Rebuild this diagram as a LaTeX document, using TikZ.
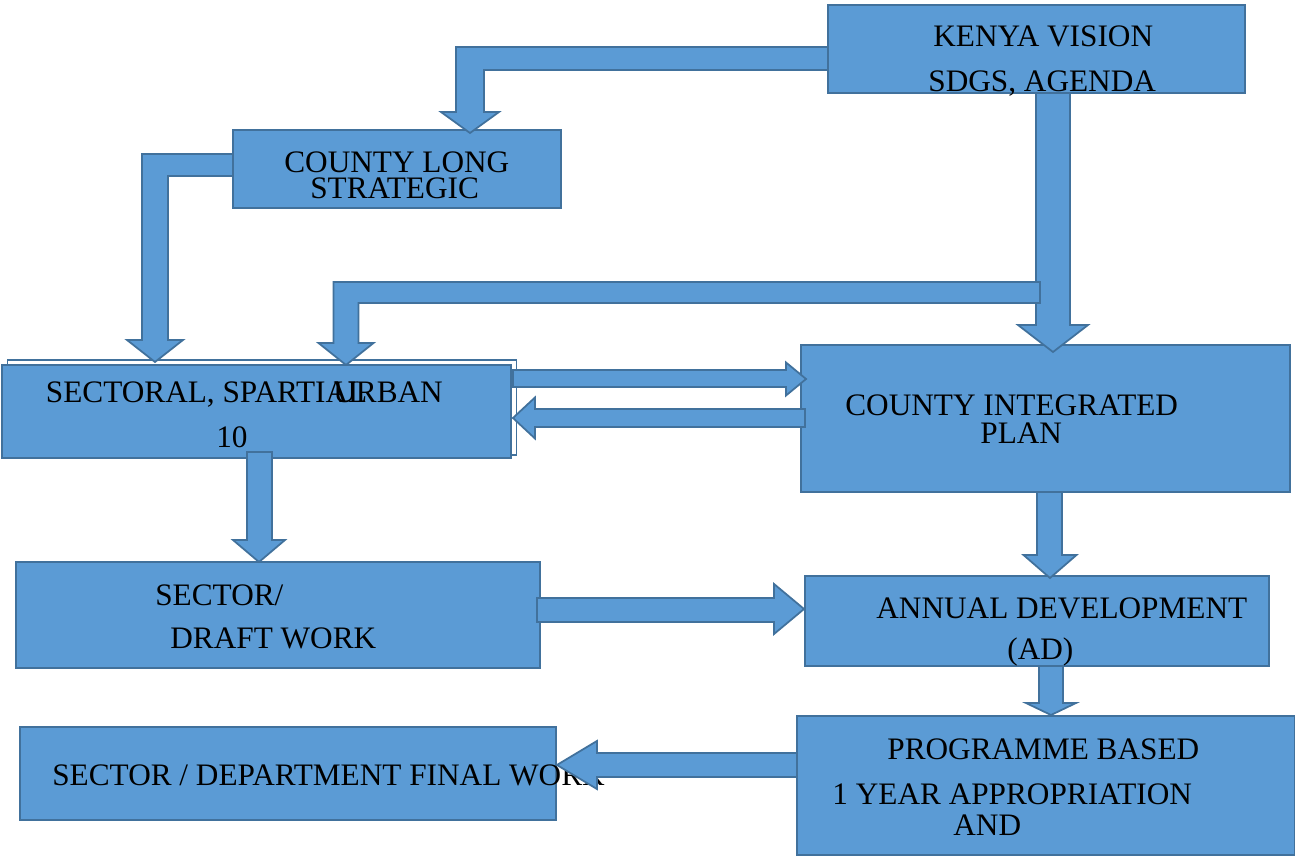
\documentclass[tikz,border=0pt]{standalone}
\usepackage{fontspec}
\setmainfont{Liberation Serif}
\usepackage{tikz}
\usetikzlibrary{calc}

\definecolor{boxfill}{HTML}{5B9BD5}
\definecolor{boxline}{HTML}{41719C}

% Blockpfeile: start, tip, half shaft, half head, head length
\newcommand{\blockdown}[5]{%
  \filldraw[blockarrow] ($(#1)+(-#3,0)$) -- ($(#1|-#2)+(-#3,-#5)$) -- ($(#2)+(-#4,-#5)$) -- (#2)
    -- ($(#2)+(#4,-#5)$) -- ($(#1|-#2)+(#3,-#5)$) -- ($(#1)+(#3,0)$) -- cycle;}
\newcommand{\blockright}[5]{%
  \filldraw[blockarrow] ($(#1)+(0,-#3)$) -- ($(#2|-#1)+(-#5,-#3)$) -- ($(#2)+(-#5,-#4)$) -- (#2)
    -- ($(#2)+(-#5,#4)$) -- ($(#2|-#1)+(-#5,#3)$) -- ($(#1)+(0,#3)$) -- cycle;}
\newcommand{\blockleft}[5]{%
  \filldraw[blockarrow] ($(#1)+(0,-#3)$) -- ($(#2|-#1)+(#5,-#3)$) -- ($(#2)+(#5,-#4)$) -- (#2)
    -- ($(#2)+(#5,#4)$) -- ($(#2|-#1)+(#5,#3)$) -- ($(#1)+(0,#3)$) -- cycle;}
% Winkelpfeil: start, tip, half horizontal shaft, half vertical shaft, half head, head length
\newcommand{\blockelbow}[6]{%
  \filldraw[blockarrow] ($(#1)+(0,-#3)$) -- ($(#2|-#1)+(-#4,-#3)$) -- ($(#2)+(-#4,-#6)$) -- ($(#2)+(-#5,-#6)$) -- (#2)
    -- ($(#2)+(#5,-#6)$) -- ($(#2)+(#4,-#6)$) -- ($(#2|-#1)+(#4,#3)$) -- ($(#1)+(0,#3)$) -- cycle;}

\begin{document}
\begin{tikzpicture}[x=0.02cm, y=-0.02cm,
                box/.style={draw=boxline, fill=boxfill, line width=1pt, rectangle, inner sep=0pt, outer sep=0pt},
                frame/.style={draw=boxline, line width=0.6pt, rectangle, inner sep=0pt, outer sep=0pt},
                lbl/.style={font=\fontsize{17.8pt}{20pt}\selectfont, inner sep=0pt, anchor=base west},
                blockarrow/.style={draw=boxline, fill=boxfill, line width=1pt, line join=miter}
            ]
            \useasboundingbox (0,0) rectangle (1295,857);

            % Knoten
            \node[box, minimum width=8.34cm, minimum height=1.76cm] (kenya) at (1036.5,49) {};
            \node[box, minimum width=6.56cm, minimum height=1.56cm] (longplan) at (397,169) {};
            \node[frame, minimum width=10.19cm, minimum height=1.9cm] (sectframe) at (262.25,407.5) {};
            \node[box, minimum width=10.18cm, minimum height=1.86cm] (sectoral) at (256.5,411.5) {};
            \node[box, minimum width=9.78cm, minimum height=2.94cm] (cidp) at (1045.5,418.5) {};
            \node[box, minimum width=10.48cm, minimum height=2.12cm] (draft) at (278,615) {};
            \node[box, minimum width=9.28cm, minimum height=1.8cm] (adp) at (1037,621) {};
            \node[box, minimum width=9.96cm, minimum height=2.78cm] (pbb) at (1046,785.5) {};
            \node[box, minimum width=10.72cm, minimum height=1.86cm] (final) at (288,773.5) {};

            % Texte
            \node[lbl] (kenyaA) at (933,47) {KENYA VISION};
            \node[lbl] (kenyaB) at (928,92) {SDGS, AGENDA};
            \node[lbl] (longA) at (284,173) {COUNTY LONG};
            \node[lbl] (longB) at (310,199) {STRATEGIC};
            \node[lbl] (sectA) at (45.6,403) {SECTORAL, SPARTIAL};
            \node[lbl] (sectB) at (333,403) {URBAN};
            \node[lbl] (sectC) at (216,448) {10};
            \node[lbl] (cidpA) at (845,416) {COUNTY INTEGRATED};
            \node[lbl] (cidpB) at (980,444) {PLAN};
            \node[lbl] (draftA) at (155,606) {SECTOR/};
            \node[lbl] (draftB) at (170,649) {DRAFT WORK};
            \node[lbl] (adpA) at (876,619) {ANNUAL DEVELOPMENT};
            \node[lbl] (adpB) at (1007,660) {(AD)};
            \node[lbl] (pbbA) at (887,760) {PROGRAMME BASED};
            \node[lbl] (pbbB) at (832,805) {1 YEAR APPROPRIATION};
            \node[lbl] (pbbC) at (953,835) {AND};
            \node[lbl] (finalA) at (52,786) {SECTOR / DEPARTMENT FINAL WORK};

            % Pfeile zwischen Knoten
            \coordinate (a0) at ($(kenya.west)+(0,9.5)$);
            \coordinate (a1) at ($(longplan.north)+(73,3)$);
            \coordinate (b0) at ($(longplan.west)+(0,-4)$);
            \coordinate (b1) at ($(sectoral.north)+(-101.5,-3)$);
            \coordinate (c0) at ($(kenya.south)+(16.5,0)$);
            \coordinate (c1) at ($(cidp.north)+(7.5,7)$);
            \coordinate (d0) at (1040,292.5);
            \coordinate (d1) at ($(sectoral.north)+(89.5,0)$);
            \coordinate (e0) at ($(sectoral.east)+(2,-33)$);
            \coordinate (e1) at ($(cidp.west)+(5,-39.5)$);
            \coordinate (f0) at ($(cidp.west)+(4,-0.5)$);
            \coordinate (f1) at ($(sectoral.east)+(2,6.5)$);
            \coordinate (g0) at ($(sectoral.south)+(3,-6)$);
            \coordinate (g1) at ($(draft.north)+(-19,0)$);
            \coordinate (h0) at ($(draft.east)+(-3,-5)$);
            \coordinate (h1) at ($(adp.west)+(-1,-12)$);
            \coordinate (i0) at ($(cidp.south)+(4,0)$);
            \coordinate (i1) at ($(adp.north)+(13,2)$);
            \coordinate (j0) at ($(adp.south)+(14,0)$);
            \coordinate (j1) at ($(pbb.north)+(5,-1)$);
            \coordinate (k0) at ($(pbb.west)+(0,-20.5)$);
            \coordinate (k1) at ($(final.east)+(1,-8.5)$);

            \blockelbow{a0}{a1}{11.5}{14}{29}{21}
            \blockelbow{b0}{b1}{11}{13}{28}{22}
            \blockdown{c0}{c1}{17}{35}{27}
            \blockelbow{d0}{d1}{10.5}{12.5}{27.5}{22}
            \blockright{e0}{e1}{8.5}{16.5}{20}
            \blockleft{f0}{f1}{9}{20.5}{22}
            \blockdown{g0}{g1}{12.5}{26}{22}
            \blockright{h0}{h1}{12}{25}{30}
            \blockdown{i0}{i1}{12.5}{26.5}{23}
            \blockdown{j0}{j1}{12}{25}{12}
            \blockleft{k0}{k1}{12}{24}{40}

        \end{tikzpicture}
\end{document}
